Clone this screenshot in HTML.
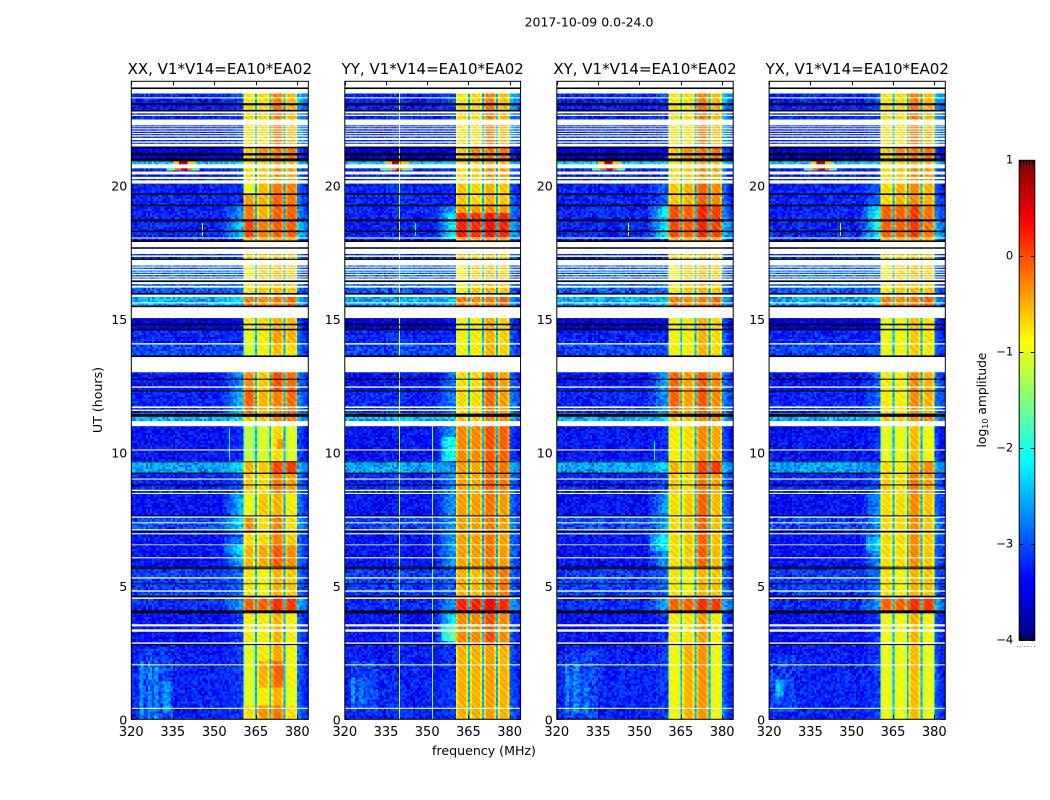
<!DOCTYPE html>
<html lang="en">
<head>
<meta charset="utf-8">
<title>2017-10-09 amplitude waterfall</title>
<style>
html,body{margin:0;padding:0;background:#fff;width:1050px;height:800px;overflow:hidden}
svg{display:block}
text{font-family:"DejaVu Sans","Liberation Sans",sans-serif;fill:#000}
</style>
</head>
<body>
<svg id="fig" xmlns="http://www.w3.org/2000/svg" width="1050" height="800" viewBox="0 0 1050 800">
<rect width="1050" height="800" fill="#fff"/>
<text x="589" y="26.5" font-size="12.5" text-anchor="middle">2017-10-09 0.0-24.0</text>
<text x="484" y="755" font-size="12.6" text-anchor="middle">frequency (MHz)</text>
<text transform="translate(102,400) rotate(-90)" font-size="12.6" text-anchor="middle">UT (hours)</text>
<text transform="translate(986,400) rotate(-90)" font-size="12.3" text-anchor="middle">log<tspan font-size="8" dy="2">10</tspan><tspan dy="-2"> amplitude</tspan></text>
<g id="panels"></g>
<g id="cbar"></g>
</svg>
<script>
// ---- data ----
var panelNames = ["XX", "YY", "XY", "YX"];
var baselineLabel = "V1*V14=EA10*EA02";
var xTicks = [320, 335, 350, 365, 380];
var yTicks = [0, 5, 10, 15, 20];
var cbarTicks = [1, 0, -1, -2, -3, -4];
var cbarTickLabels = ["1", "0", "\u22121", "\u22122", "\u22123", "\u22124"];
var spectralWindows = [[360.5, 364.8], [365.5, 370], [370.6, 375], [375.7, 380]];

// UT ranges with no data (white)
var blankRows = [[23.45,24],[23.26,23.30],[22.70,22.77],[22.60,22.65],[22.25,22.47],[22.18,22.21],[22.10,22.14],[22.01,22.05],[21.92,21.96],[21.83,21.88],[21.70,21.78],[21.60,21.65],[21.46,21.56],[20.64,20.79],[20.41,20.52],[20.24,20.32],[20.07,20.19],[18.01,18.05],[17.68,17.88],[17.43,17.63],[17.32,17.38],[17.0,17.21],[16.92,16.96],[16.81,16.87],[16.73,16.77],[16.64,16.68],[16.55,16.59],[16.44,16.51],[16.30,16.38],[16.17,16.24],[15.82,15.91],[15.58,15.62],[15.03,15.44],[14.04,14.09],[13.0,13.57],[12.42,12.47],[11.66,11.72],[11.55,11.60],[10.98,11.17],[10.07,10.11],[8.98,9.02],[8.55,8.60],[8.44,8.48],[7.55,7.60],[7.34,7.38],[7.08,7.12],[6.93,6.97],[6.52,6.55],[6.03,6.07],[5.27,5.32],[4.78,4.83],[4.51,4.57],[3.48,3.56],[3.28,3.37],[2.83,2.88],[2.02,2.06],[0.39,0.43]];

// UT ranges flagged black
var flaggedRows = [[23.61,23.67],[23.0,23.08],[22.77,22.83],[21.39,21.44],[21.12,21.21],[20.90,21.01],[19.64,19.70],[19.22,19.28],[18.65,18.73],[18.25,18.31],[17.88,17.94],[17.63,17.68],[17.21,17.25],[16.38,16.44],[15.91,15.97],[15.44,15.50],[14.76,14.82],[14.57,14.63],[13.57,13.63],[12.72,12.76],[12.28,12.32],[11.33,11.45],[9.63,9.66],[9.19,9.24],[8.76,8.80],[7.60,7.64],[7.0,7.06],[5.68,5.72],[5.62,5.66],[5.06,5.09],[4.57,4.63],[3.97,4.08],[2.78,2.82]];

// [utStart, utEnd, background, band edge, window1..4, right edge] in log10 amplitude (XX)
var baseZones = [
[0,0.5,-3.25,-3.1,-0.7,-0.35,-0.2,-0.7,-2.9],
[0.5,1.2,-3.25,-3.1,-1.0,-0.8,-0.5,-0.95,-3.0],
[1.2,2.2,-3.25,-3.1,-1.0,-0.5,-0.15,-0.85,-3.0],
[2.2,2.86,-3.3,-3.1,-1.0,-0.8,-0.45,-0.85,-3.0],
[2.86,4.08,-3.35,-3.1,-0.8,-0.8,-0.5,-0.8,-3.0],
[4.08,4.6,-3.2,-2.6,-0.1,-0.1,0.15,0.1,-2.6],
[4.6,5.7,-3.1,-2.9,-0.75,-0.85,-0.5,-0.6,-2.9],
[5.7,6.5,-3.35,-2.5,-0.5,-0.45,-0.05,-0.3,-2.9],
[6.5,7.0,-3.35,-3.1,-0.7,-0.7,-0.25,-0.6,-2.9],
[7.0,7.6,-3.05,-2.3,-0.3,-0.7,-0.25,-0.7,-2.7],
[7.6,8.5,-3.35,-2.5,-0.9,-0.6,-0.5,-0.8,-2.9],
[8.5,9.24,-3.25,-3.0,-0.6,-0.7,-0.2,-0.4,-2.9],
[9.24,9.66,-2.6,-2.3,-0.5,-0.6,0.05,0.1,-2.5],
[9.66,11.0,-3.35,-3.2,-1.2,-1.05,-0.7,-1.0,-3.1],
[11.0,11.45,-2.5,-2.3,-0.6,-0.6,-0.3,-0.3,-2.5],
[11.45,12.3,-3.25,-2.5,-0.1,-0.5,-0.25,-0.15,-2.8],
[12.3,13.1,-3.35,-2.7,-0.3,-0.6,0.0,-0.15,-2.9],
[13.55,14.1,-3.05,-3.0,-1.1,-0.85,-0.55,-0.7,-2.9],
[14.1,14.6,-3.25,-3.2,-1.0,-0.8,-0.4,-0.5,-3.0],
[14.6,15.1,-3.55,-3.4,-0.8,-0.7,-0.5,-0.55,-3.1],
[15.4,15.95,-2.55,-2.4,-0.2,-0.3,-0.2,-0.1,-2.6],
[15.95,17.25,-2.95,-2.9,-0.8,-0.6,-0.5,-0.6,-2.9],
[17.25,18.0,-3.25,-3.1,-0.55,-0.55,-0.45,-0.55,-2.9],
[18.0,18.7,-3.25,-2.4,0.0,-0.25,-0.1,-0.1,-2.5],
[18.7,19.25,-3.25,-2.7,-0.2,-0.5,-0.1,-0.1,-2.8],
[19.25,19.65,-3.25,-3.2,-0.4,-0.5,-0.1,-0.2,-2.9],
[19.65,20.1,-3.25,-3.2,-0.9,-0.55,-0.2,-0.25,-3.0],
[20.1,20.8,-3.25,-3.1,-0.7,-0.6,-0.3,-0.4,-2.9],
[20.8,20.95,-2.4,-2.3,-0.8,-0.7,-0.5,-0.6,-2.4],
[20.95,21.45,-3.55,-3.4,-0.6,-0.3,-0.2,-0.2,-3.1],
[21.45,23.0,-3.25,-3.1,-0.7,-0.7,-0.2,-0.5,-2.7],
[23.0,23.5,-3.25,-3.0,-0.75,-0.7,-0.25,-0.55,-2.5]
];

// Per-panel replacements: [utStart, utEnd, background|null, edge|null, window1..4]
var yyZones = [
[0,2.86,null,null,-0.5,-0.5,-0.4,-0.5],
[2.86,3.97,null,-2.2,-0.3,-0.3,0,-0.3],
[4.08,4.6,null,-2.6,0.2,0.2,0.4,0.2],
[4.6,5.7,null,null,-0.5,-0.55,-0.25,-0.2],
[5.7,8.5,null,-2.6,-0.4,-0.4,-0.2,-0.4],
[8.5,9.66,null,-2.7,-0.4,-0.45,-0.1,-0.2],
[9.66,11,null,-2.6,-0.3,-0.3,-0.05,-0.1],
[11.45,13.1,null,-2.8,-0.7,-0.7,-0.15,-0.4],
[13.55,15.1,null,null,-0.85,-0.8,-0.5,-0.65],
[18,19,null,-2.1,0.2,0.15,0.3,0.2],
[19,19.3,null,-2.6,-0.4,-0.4,-0.3,-0.4],
[19.3,20.1,null,null,-0.6,-0.7,-0.5,-0.6]
];
var xyZones = [
[0,2.86,null,null,-0.9,-0.5,-0.35,-0.9],
[2.86,4.08,null,null,-0.8,-0.75,-0.4,-0.8],
[5.7,8.5,null,-2.6,-0.7,-0.6,-0.1,-0.55],
[9.66,11,null,null,-0.8,-0.7,-0.3,-0.45],
[11.45,13.1,null,-2.6,-0.1,-0.4,-0.05,-0.3],
[13.55,15.1,null,null,-0.85,-0.8,-0.5,-0.7],
[18,19.25,null,-2.2,0,-0.1,0.2,0.05],
[19.25,20.1,null,-2.9,-0.6,-0.5,-0.1,-0.3]
];
var yxZones = [
[0,2.86,null,null,-0.95,-0.9,-0.55,-0.95],
[2.86,4.08,null,null,-0.9,-0.85,-0.5,-0.85],
[5.7,8.5,null,-2.7,-0.7,-0.7,-0.3,-0.6],
[9.24,9.66,null,-2.7,-0.75,-0.8,-0.4,-0.3],
[9.66,11,null,null,-1.0,-0.9,-0.55,-0.9],
[11.45,13.1,null,-2.9,-0.8,-0.8,-0.3,-0.5],
[13.55,15.1,null,null,-0.9,-0.85,-0.6,-0.75],
[18,19.25,null,-2.1,-0.1,-0.1,0.1,-0.2],
[19.25,20.1,null,-2.9,-0.7,-0.5,-0.3,-0.5]
];
var panelZones = [[], yyZones, xyZones, yxZones];

// Localised features: [panel, fStart, fEnd, utStart, utEnd, level or null, added amount]
var features = [
[0,323,335,0,2.6,null,0.2],[0,323,324.6,0,2.2,null,0.35],[0,326,327.2,0,2.2,null,0.3],[0,328.5,330,0,2.0,null,0.3],[0,331,334,0.2,1.4,null,0.4],
[1,322,332,0.3,2.2,null,0.2],[1,322,323.5,0.5,1.6,null,0.35],[1,325,327,0.5,1.6,null,0.3],
[2,323,335,0,2.6,null,0.2],[2,323,324.6,0.2,2.0,null,0.35],[2,326,328,0.2,2.0,null,0.35],[2,330,332,0.2,1.2,null,0.25],
[3,321,330,0.3,2.4,null,0.2],[3,322,325,0.8,1.5,null,0.6],
[0,333,345,20.52,20.64,-1.6,0],[1,333,345,20.52,20.64,-1.6,0],[2,333,345,20.52,20.64,-1.6,0],[3,333,345,20.52,20.64,-1.6,0],
[0,336,342,20.52,20.64,-0.2,0],[1,337,341,20.52,20.64,-0.4,0],[2,336,342,20.52,20.64,-0.2,0],[3,336,342,20.52,20.64,-0.2,0],
[0,338,340,20.52,20.64,0.7,0],[1,338.5,340,20.52,20.64,0.5,0],[2,338,340,20.52,20.64,0.7,0],[3,338,340,20.52,20.64,0.7,0],
[0,335,343,20.78,20.9,-0.6,0],[1,335,343,20.78,20.9,-0.6,0],[2,335,343,20.78,20.9,-0.6,0],[3,335,343,20.78,20.9,-0.6,0],
[0,337.5,340.5,20.78,20.9,0.7,0],[1,337.5,340.5,20.78,20.9,0.7,0],[2,337.5,340.5,20.78,20.9,0.7,0],[3,337.5,340.5,20.78,20.9,0.7,0],
[0,372.5,375,10.1,10.5,-0.35,0],[0,372,375,1.4,2.0,-0.1,0],
[1,355,360.5,9.7,10.6,null,0.6],[1,355,360.5,2.9,3.5,null,0.6],[2,354,360.5,6.3,6.9,null,0.5],[3,355,360.5,6.3,6.8,null,0.4],
[0,354,360.5,6.2,6.8,null,0.3]
];

// Thin narrow-band lines: [panel, frequency, utStart, utEnd, level]
var spectralLines = [
[0,345.7,18.1,18.6,-1.0],[2,345.7,18.1,18.6,-1.0],[3,345.7,18.1,18.6,-1.0],[1,345.7,18.1,18.6,-2.0],
[1,339.7,0,23.45,-1.0],[1,351.6,0,11,-1.5],[0,355.2,9.7,10.9,-2.1],[2,355.2,9.7,10.4,-2.1]
];

// Hand-typed grain tables; they repeat across the cells as texture, not per-cell readings
var grainA = [0.12,-0.31,0.22,-0.08,0.35,-0.22,0.05,-0.4,0.28,-0.15,0.18,-0.27,0.31,0.02,-0.19,0.25,-0.36,0.09,-0.05,0.33,-0.12,-0.29,0.16,0.07,-0.34,0.27,-0.1,0.2,-0.24,0.14,-0.02,0.3,-0.38,0.11,0.24,-0.17,0.04];
var grainB = [0.1,-0.12,0.03,0.15,-0.06,-0.16,0.08,0.13,-0.1,0.0,0.17,-0.14,0.05,-0.03,0.11,-0.08,0.14,-0.13,0.02,0.09,-0.05,-0.11,0.16,0.01,-0.15,0.07,0.12,-0.09,-0.02];

// ---- scales and helpers ----
var NS = "http://www.w3.org/2000/svg";
var axesBoxes = [{l:131.3,r:308.3},{l:344.8,r:520.6},{l:556.8,r:733.2},{l:769.1,r:945.3}];
var axisTop = 81.3, axisBottom = 719.3, fMin = 320, fMax = 384, hMin = 0, hMax = 23.9;
var cbarBox = {l:1019.2, r:1034.8, t:160.3, b:640.3}, cMin = -4, cMax = 1;
function xScale(box, f){ return box.l + (f - fMin) / (fMax - fMin) * (box.r - box.l); }
function yScale(h){ return axisBottom - (h - hMin) / (hMax - hMin) * (axisBottom - axisTop); }
function cScale(v){ return cbarBox.b - (v - cMin) / (cMax - cMin) * (cbarBox.b - cbarBox.t); }
function clamp(v){ return Math.max(0, Math.min(1, v)); }
function jet(t){
  var r = clamp(1.5 - Math.abs(4*t - 3)), g = clamp(1.5 - Math.abs(4*t - 2)), b = clamp(1.5 - Math.abs(4*t - 1));
  return "rgb(" + Math.round(r*255) + "," + Math.round(g*255) + "," + Math.round(b*255) + ")";
}
function make(tag, parent){ var el = document.createElementNS(NS, tag); parent.appendChild(el); return el; }
function buildColumns(){
  var cols = [], f, i, w, n;
  for (f = fMin; f < 360.5; f += 0.75) {
    cols.push({f0:f, f1:Math.min(f + 0.75, 360.5), kind: f < 352 ? "bg" : "edge", pos: clamp((f - 352) / 7)});
  }
  for (w = 0; w < spectralWindows.length; w++) {
    var a = spectralWindows[w][0], b = spectralWindows[w][1];
    n = 6;
    for (i = 0; i < n; i++) {
      cols.push({f0:a + (b - a) * i / n, f1:a + (b - a) * (i + 1) / n, kind:"win", win:w, rim:(i === 0 || i === n - 1)});
    }
    if (w < spectralWindows.length - 1) cols.push({f0:b, f1:spectralWindows[w + 1][0], kind:"gap"});
  }
  for (f = 380; f < fMax; f += 0.75) {
    cols.push({f0:f, f1:Math.min(f + 0.75, fMax), kind:"right", pos: (f - 380) / 4});
  }
  return cols;
}
function zoneValues(p, hour){
  var i, z = null;
  for (i = 0; i < baseZones.length; i++) { if (hour >= baseZones[i][0] && hour < baseZones[i][1]) { z = baseZones[i].slice(); break; } }
  if (!z) return null;
  var o = panelZones[p];
  for (i = 0; i < o.length; i++) {
    if (hour >= o[i][0] && hour < o[i][1]) {
      if (o[i][2] !== null) z[2] = o[i][2];
      if (o[i][3] !== null) z[3] = o[i][3];
      z[4] = o[i][4]; z[5] = o[i][5]; z[6] = o[i][6]; z[7] = o[i][7];
      break;
    }
  }
  return z;
}
function cellLevel(p, c, col, row, hour, z){
  var g1 = grainA[(col * col * 3 + row * row * 5 + col * row * 7 + col + p * 9) % grainA.length];
  var g2 = grainB[(col + row) % grainB.length];
  var v;
  if (c.kind === "bg") v = z[2] + g1;
  else if (c.kind === "edge") v = z[2] + (z[3] - z[2]) * c.pos + g1 * 0.8;
  else if (c.kind === "win") v = z[4 + c.win] + (c.rim ? -0.28 : 0) + g2 * 1.1;
  else if (c.kind === "gap") v = -2.5 + g1 * 0.6;
  else v = z[8] - 0.5 * c.pos + g1 * 0.7 + 0.1;
  var mid = (c.f0 + c.f1) / 2;
  for (var i = 0; i < features.length; i++) {
    var e = features[i];
    if (e[0] === p && mid >= e[1] && mid < e[2] && hour >= e[3] && hour < e[4]) {
      v = e[5] !== null ? e[5] + g2 * 0.5 : v + e[6];
    }
  }
  return v;
}

// ---- draw ----
var panelsG = document.getElementById("panels");
var columns = buildColumns();
var ROW_H = 0.075, LEVELS = 128;
panelNames.forEach(function(name, p){
  var box = axesBoxes[p];
  var g = make("g", panelsG);
  
  

  var heat = make("g", g);
  
  
  heat.setAttribute("shape-rendering", "crispEdges");
  var buckets = {};
  var rowCount = Math.ceil(23.45 / ROW_H);
  for (var r = 0; r < rowCount; r++) {
    var h0 = r * ROW_H, h1 = Math.min(h0 + ROW_H, 23.45), hm = (h0 + h1) / 2;
    var z = zoneValues(p, hm);
    if (!z) continue;
    var yT = yScale(h1), yB = yScale(h0);
    for (var c = 0; c < columns.length; c++) {
      var col = columns[c];
      var v = cellLevel(p, col, c, r, hm, z);
      var key = Math.round(clamp((v - cMin) / (cMax - cMin)) * (LEVELS - 1));
      var x0 = xScale(box, col.f0), x1 = xScale(box, col.f1);
      (buckets[key] = buckets[key] || []).push("M" + x0.toFixed(1) + " " + yT.toFixed(1) + "H" + x1.toFixed(1) + "V" + yB.toFixed(1) + "H" + x0.toFixed(1) + "Z");
    }
  }
  Object.keys(buckets).forEach(function(key){
    var path = make("path", heat);
    
    
    path.setAttribute("fill", jet(key / (LEVELS - 1)));
    path.setAttribute("d", buckets[key].join(""));
  });

  spectralLines.forEach(function(s){
    if (s[0] !== p) return;
    var line = make("rect", heat);
    
    
    line.setAttribute("x", Math.round(xScale(box, s[1])));
    line.setAttribute("width", 1);
    line.setAttribute("y", yScale(s[3]));
    line.setAttribute("height", yScale(s[2]) - yScale(s[3]));
    line.setAttribute("fill", jet((s[4] - cMin) / (cMax - cMin)));
  });

  blankRows.forEach(function(b){
    var el = make("rect", g);
    
    
    el.setAttribute("x", box.l); el.setAttribute("width", box.r - box.l);
    el.setAttribute("y", yScale(b[1])); el.setAttribute("height", yScale(b[0]) - yScale(b[1]));
    el.setAttribute("fill", "#fff");
  });
  flaggedRows.forEach(function(b){
    var el = make("rect", g);
    
    
    el.setAttribute("x", box.l); el.setAttribute("width", box.r - box.l);
    el.setAttribute("y", yScale(b[1])); el.setAttribute("height", yScale(b[0]) - yScale(b[1]));
    el.setAttribute("fill", "#000");
  });

  var frame = make("rect", g);
  
  
  frame.setAttribute("x", box.l); frame.setAttribute("y", axisTop);
  frame.setAttribute("width", box.r - box.l); frame.setAttribute("height", axisBottom - axisTop);
  frame.setAttribute("fill", "none"); frame.setAttribute("stroke", "#000"); frame.setAttribute("stroke-width", "1");

  xTicks.forEach(function(t){
    var x = Math.round(xScale(box, t)) + 0.5;
    var bottomTick = make("path", g);
    
    
    bottomTick.setAttribute("d", "M" + x + " " + axisBottom + "v-4M" + x + " " + axisTop + "v4");
    bottomTick.setAttribute("stroke", "#000");
    var label = make("text", g);
    
    
    label.setAttribute("x", xScale(box, t));
    label.setAttribute("y", 736);
    label.setAttribute("font-size", "13");
    label.setAttribute("text-anchor", "middle");
    label.textContent = t;
  });
  yTicks.forEach(function(t){
    var y = Math.round(yScale(t)) + 0.5;
    var tick = make("path", g);
    
    
    tick.setAttribute("d", "M" + box.l + " " + y + "h4M" + box.r + " " + y + "h-4");
    tick.setAttribute("stroke", "#000");
    var label = make("text", g);
    
    
    label.setAttribute("x", box.l - 4);
    label.setAttribute("y", yScale(t) + 5);
    label.setAttribute("font-size", "12.6");
    label.setAttribute("text-anchor", "end");
    label.textContent = t;
  });

  var title = make("text", g);
  
  
  title.setAttribute("x", (box.l + box.r) / 2);
  title.setAttribute("y", 74);
  title.setAttribute("font-size", "15");
  title.setAttribute("text-anchor", "middle");
  title.textContent = name + ", " + baselineLabel;
});

// colorbar
var cbarG = document.getElementById("cbar");
var steps = 256;
for (var s = 0; s < steps; s++) {
  var vLo = cMin + (cMax - cMin) * s / steps, vHi = cMin + (cMax - cMin) * (s + 1) / steps;
  var seg = make("rect", cbarG);
  
  
  seg.setAttribute("x", cbarBox.l); seg.setAttribute("width", cbarBox.r - cbarBox.l);
  seg.setAttribute("y", cScale(vHi)); seg.setAttribute("height", cScale(vLo) - cScale(vHi) + 0.5);
  seg.setAttribute("fill", jet((s + 0.5) / steps));
}
var combTop = make("path", cbarG);


combTop.setAttribute("d", "M1020 163h14");
combTop.setAttribute("stroke", "#000");
combTop.setAttribute("stroke-width", "5");
combTop.setAttribute("stroke-dasharray", "1 2");
var combBottom = make("path", cbarG);


combBottom.setAttribute("d", "M1020 638h14");
combBottom.setAttribute("stroke", "#000");
combBottom.setAttribute("stroke-width", "5");
combBottom.setAttribute("stroke-dasharray", "1 2");
var cframe = make("rect", cbarG);


cframe.setAttribute("x", cbarBox.l); cframe.setAttribute("y", cbarBox.t);
cframe.setAttribute("width", cbarBox.r - cbarBox.l); cframe.setAttribute("height", cbarBox.b - cbarBox.t);
cframe.setAttribute("fill", "none"); cframe.setAttribute("stroke", "#000");
cbarTicks.forEach(function(t, i){
  var y = Math.round(cScale(t)) + 0.5;
  var tick = make("path", cbarG);
  
  
  tick.setAttribute("d", "M" + cbarBox.l + " " + y + "h4M" + cbarBox.r + " " + y + "h-4");
  tick.setAttribute("stroke", "#000");
  var label = make("text", cbarG);
  
  
  label.setAttribute("x", cbarBox.l - 6);
  label.setAttribute("y", cScale(t) + 3);
  label.setAttribute("font-size", "11.5");
  label.setAttribute("text-anchor", "end");
  label.textContent = cbarTickLabels[i];
});
var dots = make("path", cbarG);


dots.setAttribute("d", "M1017 646.5h18");
dots.setAttribute("stroke", "#777");
dots.setAttribute("stroke-dasharray", "1 2.4");
</script>
</body>
</html>
